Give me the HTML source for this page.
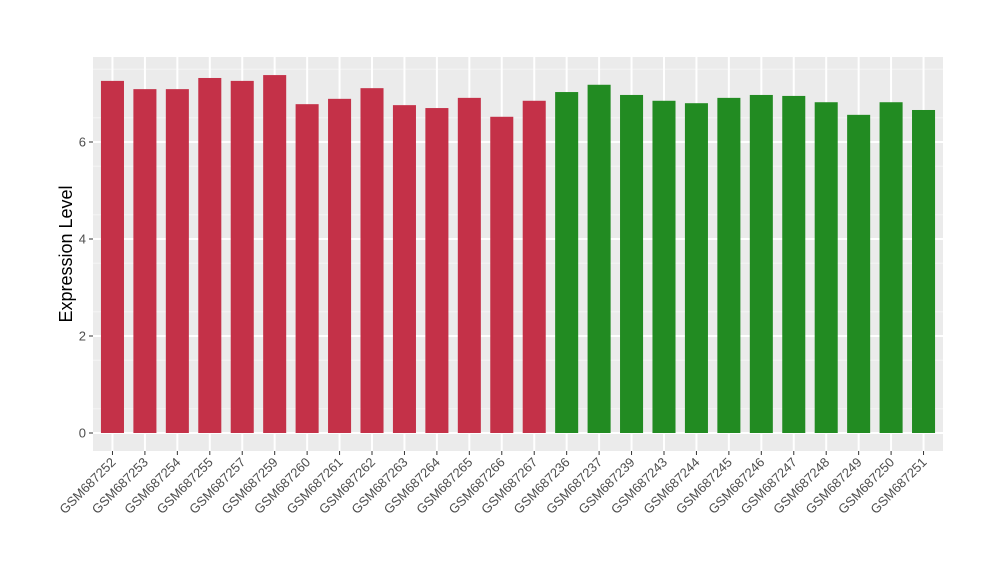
<!DOCTYPE html>
<html><head><meta charset="utf-8"><style>
body{margin:0;background:#fff}
svg text{font-family:"Liberation Sans",Arial,sans-serif}
</style></head><body>
<svg id="chart" width="1000" height="580">
<rect x="93" y="57" width="850" height="394" fill="#ebebeb"/>
<g id="grid"></g><g id="bars"></g><g id="axes"></g>
<text transform="translate(72,254) rotate(-90)" text-anchor="middle" font-size="18" fill="#000">Expression Level</text>
</svg>
<script>
const categories=["GSM687252","GSM687253","GSM687254","GSM687255","GSM687257","GSM687259","GSM687260","GSM687261","GSM687262","GSM687263","GSM687264","GSM687265","GSM687266","GSM687267","GSM687236","GSM687237","GSM687239","GSM687243","GSM687244","GSM687245","GSM687246","GSM687247","GSM687248","GSM687249","GSM687250","GSM687251"];
const values=[7.26,7.09,7.09,7.32,7.26,7.38,6.78,6.89,7.11,6.76,6.70,6.91,6.52,6.85,7.03,7.18,6.97,6.85,6.80,6.91,6.97,6.95,6.82,6.56,6.82,6.66];
const groups=["a","a","a","a","a","a","a","a","a","a","a","a","a","a","b","b","b","b","b","b","b","b","b","b","b","b"];
const yTicks=[0,2,4,6];
const colors={a:"#c43148",b:"#228b22"};
const NS="http://www.w3.org/2000/svg";
const x0=93,x1=943,yTop=57,yBot=451;
const yScale=v=>433-v*48.5;
const step=(x1-x0)/(categories.length-1+1.2);
const xScale=i=>x0+step*(0.6+i);
const bw=step*0.71;
const grid=document.getElementById('grid'),bars=document.getElementById('bars'),axes=document.getElementById('axes');
function mk(t,a,p){const e=document.createElementNS(NS,t);for(const k in a)e.setAttribute(k,a[k]);p.appendChild(e);return e;}
for(let v=-0.5;v<=7.6;v+=1){const y=yScale(v);if(y<yTop||y>yBot)continue;
 const l=mk('line',{x1:x0,x2:x1,y1:y,y2:y,stroke:'#f5f5f5','stroke-width':1},grid);
 
 }
yTicks.forEach(v=>{const y=yScale(v);
 const l=mk('line',{x1:x0,x2:x1,y1:y,y2:y,stroke:'#fff','stroke-width':2},grid);
 
 
 const tk=mk('line',{x1:x0-4,x2:x0,y1:y,y2:y,stroke:'#333','stroke-width':1},axes);
 
 
 const t=mk('text',{x:x0-7,y:y+4.5,'text-anchor':'end','font-size':13,fill:'#4d4d4d'},axes);
 t.textContent=v;
 
 });
categories.forEach((c,i)=>{const x=xScale(i);
 const g=mk('line',{x1:x,x2:x,y1:yTop,y2:yBot,stroke:'#fff','stroke-width':2},grid);
 
 
 const r=mk('rect',{x:x-bw/2,y:yScale(values[i]),width:bw,height:yScale(0)-yScale(values[i]),fill:colors[groups[i]]},bars);
 
 
 const tk=mk('line',{x1:x,x2:x,y1:yBot,y2:yBot+4,stroke:'#333','stroke-width':1},axes);
 
 
 const t=mk('text',{x:0,y:0,'text-anchor':'end','font-size':13,fill:'#4d4d4d',transform:`translate(${x+4},${yBot+12}) rotate(-45)`},axes);
 t.textContent=c;
 
 });
</script>
</body></html>
